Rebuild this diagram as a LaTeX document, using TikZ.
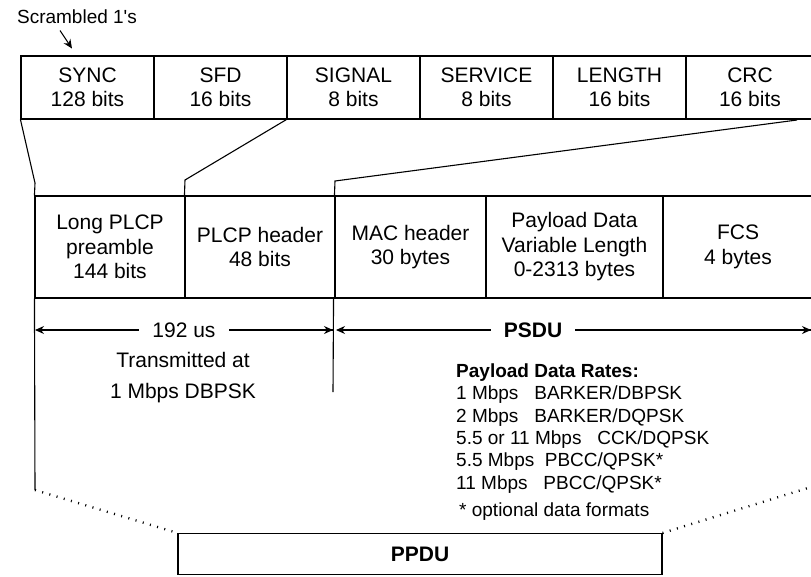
\documentclass[tikz,border=0pt]{standalone}
\usepackage{fontspec}
\setmainfont{Liberation Sans}
\usetikzlibrary{calc, arrows.meta}

\begin{document}
\begin{tikzpicture}[
    x=1pt, y=-1pt,
    font=\fontsize{21}{24.5}\selectfont,
    field/.style={rectangle, draw=black, line width=1.1pt, text centered, align=center, inner sep=0pt, minimum height=63pt},
    frame/.style={rectangle, draw=black, line width=1.1pt, text centered, align=center, inner sep=0pt, minimum height=102pt},
    link/.style={line width=1.1pt},
    dotlink/.style={line width=2.4pt, dash pattern=on 1pt off 6.5pt},
    dim/.style={line width=1.1pt, -{Stealth[length=9pt, width=8pt]}},
    dimlabel/.style={fill=white, inner xsep=13pt, inner ysep=2pt},
    rate/.style={anchor=west, inner sep=0pt, font=\fontsize{19}{22}\selectfont}
]
\useasboundingbox (0,0) rectangle (811,576);

% --- Nodes ---
% PLCP fields (top row)
\node (scr) at (77,17) [font=\fontsize{19}{22}\selectfont] {Scrambled 1\textquotesingle s};
\node (sync) at (87.5,87.5) [field, minimum width=133pt] {SYNC\\128 bits};
\node (sfd) at (220.5,87.5) [field, minimum width=133pt] {SFD\\16 bits};
\node (signal) at (353.5,87.5) [field, minimum width=133pt] {SIGNAL\\8 bits};
\node (service) at (486.5,87.5) [field, minimum width=133pt] {SERVICE\\8 bits};
\node (length) at (619.5,87.5) [field, minimum width=133pt] {LENGTH\\16 bits};
\node (crc) at (750,87.5) [field, minimum width=128pt] {CRC\\16 bits};

% PPDU frame (middle row)
\node (pre) at (110,247) [frame, minimum width=150pt] {Long PLCP\\preamble\\144 bits};
\node (hdr) at (260,247) [frame, minimum width=150pt] {PLCP header\\48 bits};
\node (mac) at (410.5,247) [frame, minimum width=151pt] {MAC header\\30 bytes};
\node (pay) at (574.5,247) [frame, minimum width=177pt] {Payload Data\\Variable Length\\0-2313 bytes};
\node (fcs) at (738,247) [frame, minimum width=150pt] {FCS\\4 bytes};

% Texts below the frame
\node (tx) at (183,378) [align=center, font=\fontsize{21}{31}\selectfont] {Transmitted at\\1 Mbps DBPSK};
\node (rates) at (456,373) [rate, font=\fontsize{19}{22}\selectfont\bfseries] {Payload Data Rates:};
\node (r1) at (456,395) [rate] {1 Mbps\ \ \ BARKER/DBPSK};
\node (r2) at (456,418) [rate] {2 Mbps\ \ \ BARKER/DQPSK};
\node (r3) at (456,440) [rate] {5.5 or 11 Mbps\ \ \ CCK/DQPSK};
\node (r4) at (456,462) [rate] {5.5 Mbps\ \ PBCC/QPSK*};
\node (r5) at (456,485) [rate] {11 Mbps\ \ \ PBCC/QPSK*};
\node (r6) at (459,512) [rate] {* optional data formats};

\node (ppdu) at (420,554) [rectangle, draw=black, line width=1.1pt, minimum width=484pt, minimum height=41pt, font=\fontsize{21}{24}\selectfont\bfseries] {PPDU};

% --- Coordinates ---
\coordinate (k1) at (35,183);
\coordinate (k2) at (185,180);
\coordinate (k3) at (335,181);
\coordinate (crcend) at (797,120);
\coordinate (preend) at (35,490);
\coordinate (psdutop) at (333,392);
\coordinate (a0) at (35,330);
\coordinate (a1) at (333,330);
\coordinate (a2) at (336,330);
\coordinate (a3) at (811,330);
\coordinate (fcsend) at (811,487);

% --- Edges ---
% Expansion of the PLCP fields
\draw [link] (sync.south west) -- (k1) -- (pre.north west);
\draw [link] (signal.south west) -- (k2) -- (hdr.north west);
\draw [link] (crcend) -- (k3) -- (mac.north west);
\draw [line width=1pt, -{Stealth[length=9pt, width=8pt]}] (scr.south) ++(-17,3) -- ++(12,18);

% Extent lines
\draw [link] (pre.south west) -- (preend);
\draw [link] (hdr.south east) ++(-2,0) -- (psdutop);

% Durations
\draw [dim] (a1) -- (a0) node[midway, dimlabel] (us) {192 us};
\draw [dim] (us) -- (a1);
\draw [dim] (a3) -- (a2) node[pos=0.585, dimlabel] (psdu) {\bfseries PSDU};
\draw [dim] (psdu) -- (a3);

% PPDU
\draw [dotlink] (preend) -- (ppdu.north west);
\draw [dotlink] (ppdu.north east) -- (fcsend);

\end{tikzpicture}
\end{document}
